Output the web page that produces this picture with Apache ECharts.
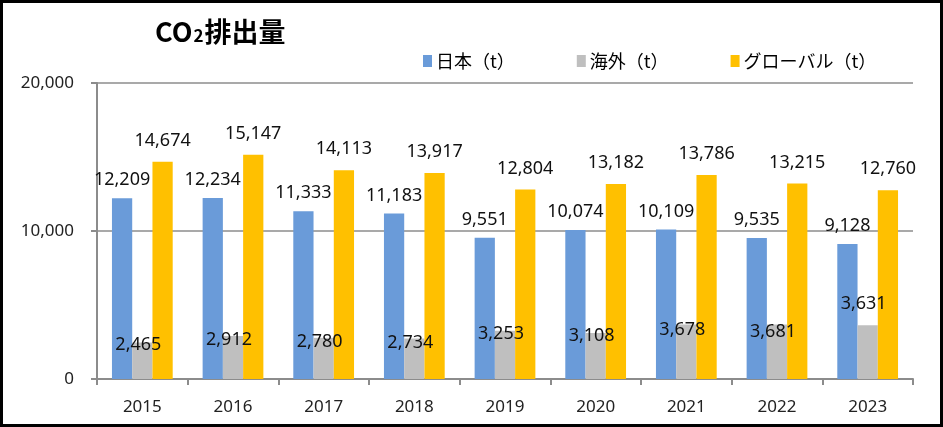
<!DOCTYPE html>
<html><head><meta charset="utf-8">
<script src="https://cdn.jsdelivr.net/npm/echarts@6/dist/echarts.min.js"></script>
<style>html,body{margin:0;padding:0;background:#fff}#c{width:943px;height:427px}</style>
</head><body><div id="c"></div>
<script>
const years = ['2015','2016','2017','2018','2019','2020','2021','2022','2023'];
const japan = [12209,12234,11333,11183,9551,10074,10109,9535,9128];
const overseas = [2465,2912,2780,2734,3253,3108,3678,3681,3631];
const global = [14674,15147,14113,13917,12804,13182,13786,13215,12760];
const seriesNames = ['日本（t）','海外（t）','グローバル（t）'];
const yTicks = [0,10000,20000];

const FONT = "'Noto Sans','Noto Sans CJK JP',sans-serif";
const fmt = v => v.toLocaleString('en-US');
const chart = echarts.init(document.getElementById('c'));

// label vertical offsets for overseas labels (manual placement in source)
const grayOffsets = [16,18,18,18,17,17,19,21,-7];

chart.setOption({
  animation:false,
  textStyle:{fontFamily:FONT},
  title:{
    text:'{a|CO}{b|2}{a|排出量}',
    left:150, top:13,
    textStyle:{rich:{
      a:{fontSize:27,fontWeight:'bold',fontFamily:"'Noto Sans CJK JP',sans-serif",color:'#000'},
      b:{fontSize:17,fontFamily:"'Noto Sans CJK JP',sans-serif",color:'#000',padding:[9,1,0,1]}
    }}
  },
  legend:{
    left:418, top:47, itemWidth:9, itemHeight:12, itemGap:62,
    textStyle:{fontSize:18,color:'#000',fontFamily:"'Noto Sans CJK JP',sans-serif",padding:[0,0,0,-1]},
    icon:'rect'
  },
  grid:{left:97,right:30,top:83,bottom:48},
  xAxis:{
    type:'category', data:years,
    axisLine:{lineStyle:{color:'#8c8c8c',width:2}},
    axisTick:{show:true,length:6,lineStyle:{color:'#8c8c8c',width:2},alignWithLabel:false},
    axisLabel:{fontSize:17,color:'#222',margin:20,fontFamily:FONT}
  },
  yAxis:{
    type:'value', min:0, max:20000, interval:10000,
    axisLine:{show:true,lineStyle:{color:'#8c8c8c',width:2}},
    axisTick:{show:true,length:6,lineStyle:{color:'#8c8c8c',width:2}},
    splitLine:{lineStyle:{color:'#8c8c8c',width:1.5}},
    axisLabel:{fontSize:17,color:'#222',margin:23,fontFamily:FONT,formatter:v=>fmt(v)}
  },
  series:[
    {name:seriesNames[0],type:'bar',data:japan,barGap:'0%',barCategoryGap:'33%',
     itemStyle:{color:'#6A9BD9'},
     label:{show:true,position:'top',distance:9,fontSize:18,color:'#111',formatter:p=>fmt(p.value)}},
    {name:seriesNames[1],type:'bar',
     data:overseas.map((v,i)=>({value:v,label:{offset:[-4,grayOffsets[i]]}})),
     itemStyle:{color:'#BFBFBF'},
     label:{show:true,position:'top',distance:5,fontSize:18,color:'#111',formatter:p=>fmt(p.value)}},
    {name:seriesNames[2],type:'bar',data:global,
     itemStyle:{color:'#FFC000'},
     label:{show:true,position:'top',distance:12,fontSize:18,color:'#111',formatter:p=>fmt(p.value)}}
  ],
  graphic:[{type:'rect',shape:{x:1.5,y:1.5,width:940,height:424},style:{fill:null,stroke:'#000',lineWidth:3},z:100}]
});
</script></body></html>
